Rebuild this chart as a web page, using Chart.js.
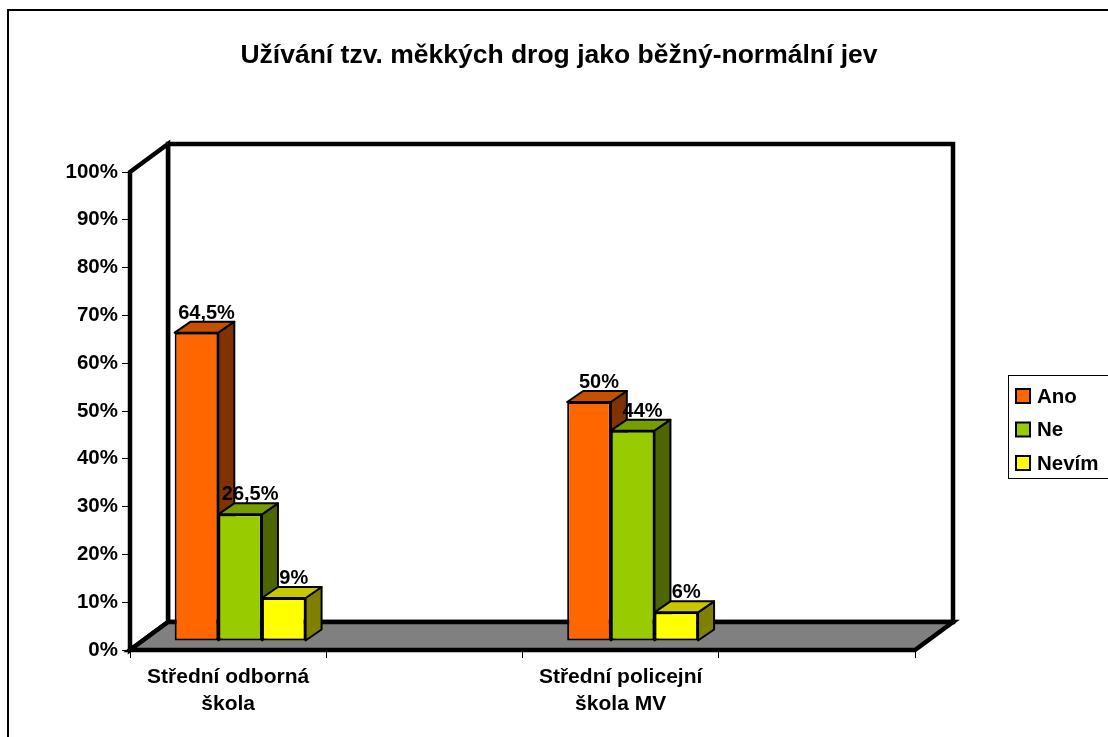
<!DOCTYPE html>
<html lang="cs">
<head>
<meta charset="utf-8">
<title>Užívání tzv. měkkých drog</title>
<script src="https://cdn.jsdelivr.net/npm/chart.js@4/dist/chart.umd.min.js"></script>
<style>
    html, body { margin: 0; padding: 0; background: #ffffff; }
    canvas { display: block; }
</style>
</head>
<body>
<canvas id="grafico" width="1108" height="737"></canvas>
<script>
// Dados do gráfico
const titulo = 'Užívání tzv. měkkých drog jako běžný-normální jev';
const kategorie = [['Střední odborná', 'škola'], '', ['Střední policejní', 'škola MV'], ''];
const serie = ['Ano', 'Ne', 'Nevím'];
const ano = [64.5, null, 50, null];
const ne = [26.5, null, 44, null];
const nevim = [9, null, 6, null];
const yMin = 0;
const yMax = 100;
const yKrok = 10;

// Barvy: přední stěna, horní stěna, boční stěna
const barvyPredni = ['#FF6600', '#99CC00', '#FFFF00'];
const barvyHorni = ['#C65000', '#779E00', '#C8C800'];
const barvyBocni = ['#803300', '#4D6600', '#808000'];

const pismo = 'Arial, "Liberation Sans", sans-serif';

// 3D hloubka
const HLOUBKA_X = 38, HLOUBKA_Y = -28;   // stěny a podlaha
const POSUN_X = 12, POSUN_Y = -9;        // rovina sloupců
const SLOUPEC_X = 16, SLOUPEC_Y = -11;   // hloubka sloupce

function formatHodnota(v) {
    return String(v).replace('.', ',') + '%';
}

// Stěny, podlaha, rámeček, titulek a legenda
const pozadi3D = {
    id: 'pozadi3D',
    beforeDraw(chart) {
        const ctx = chart.ctx;
        const a = chart.chartArea;
        ctx.save();
        ctx.fillStyle = '#ffffff';
        ctx.fillRect(0, 0, chart.width, chart.height);

        // vnější rámeček
        ctx.strokeStyle = '#000000';
        ctx.lineWidth = 2;
        ctx.strokeRect(8, 10, chart.width + 20, chart.height + 20);

        ctx.lineWidth = 4.5;
        ctx.lineJoin = 'miter';

        // zadní stěna
        ctx.fillStyle = '#ffffff';
        ctx.beginPath();
        ctx.rect(a.left + HLOUBKA_X, a.top + HLOUBKA_Y, a.right - a.left, a.bottom - a.top);
        ctx.fill();
        ctx.stroke();

        // levá stěna
        ctx.beginPath();
        ctx.moveTo(a.left, a.top);
        ctx.lineTo(a.left + HLOUBKA_X, a.top + HLOUBKA_Y);
        ctx.lineTo(a.left + HLOUBKA_X, a.bottom + HLOUBKA_Y);
        ctx.lineTo(a.left, a.bottom);
        ctx.closePath();
        ctx.fill();
        ctx.stroke();

        // podlaha
        ctx.fillStyle = '#808080';
        ctx.beginPath();
        ctx.moveTo(a.left, a.bottom);
        ctx.lineTo(a.right, a.bottom);
        ctx.lineTo(a.right + HLOUBKA_X, a.bottom + HLOUBKA_Y);
        ctx.lineTo(a.left + HLOUBKA_X, a.bottom + HLOUBKA_Y);
        ctx.closePath();
        ctx.fill();
        ctx.stroke();

        // titulek
        ctx.fillStyle = '#000000';
        ctx.font = 'bold 26.5px ' + pismo;
        ctx.textAlign = 'center';
        ctx.textBaseline = 'alphabetic';
        ctx.fillText(titulo, 559, 63);
        ctx.restore();
    },
    beforeDatasetsDraw(chart) {
        const ctx = chart.ctx;
        ctx.save();
        ctx.translate(POSUN_X, POSUN_Y);
        // horní a boční stěny sloupců, zleva doprava
        for (let d = 0; d < chart.data.datasets.length; d++) {
            const meta = chart.getDatasetMeta(d);
            meta.data.forEach((el, i) => {
                if (chart.data.datasets[d].data[i] == null) return;
                const p = el.getProps(['x', 'y', 'base', 'width'], true);
                const l = p.x - p.width / 2;
                const r = p.x + p.width / 2;
                ctx.lineWidth = 2;
                ctx.lineJoin = 'round';
                ctx.strokeStyle = '#000000';

                ctx.fillStyle = barvyBocni[d];
                ctx.beginPath();
                ctx.moveTo(r, p.y);
                ctx.lineTo(r + SLOUPEC_X, p.y + SLOUPEC_Y);
                ctx.lineTo(r + SLOUPEC_X, p.base + SLOUPEC_Y);
                ctx.lineTo(r, p.base);
                ctx.closePath();
                ctx.fill();
                ctx.stroke();

                ctx.fillStyle = barvyHorni[d];
                ctx.beginPath();
                ctx.moveTo(l, p.y);
                ctx.lineTo(l + SLOUPEC_X, p.y + SLOUPEC_Y);
                ctx.lineTo(r + SLOUPEC_X, p.y + SLOUPEC_Y);
                ctx.lineTo(r, p.y);
                ctx.closePath();
                ctx.fill();
                ctx.stroke();
            });
        }
    },
    afterDatasetsDraw(chart) {
        const ctx = chart.ctx;
        // popisky hodnot
        ctx.fillStyle = '#000000';
        ctx.font = 'bold 20px ' + pismo;
        ctx.textAlign = 'center';
        ctx.textBaseline = 'alphabetic';
        chart.data.datasets.forEach((ds, d) => {
            chart.getDatasetMeta(d).data.forEach((el, i) => {
                const v = ds.data[i];
                if (v == null) return;
                const p = el.getProps(['x', 'y'], true);
                ctx.fillText(formatHodnota(v), p.x + 10, p.y - 14);
            });
        });
        ctx.restore();
    },
    afterDraw(chart) {
        const ctx = chart.ctx;
        ctx.save();
        // legenda
        ctx.strokeStyle = '#000000';
        ctx.lineWidth = 1;
        ctx.strokeRect(1008.5, 375.5, 130, 103);
        ctx.font = 'bold 20.5px ' + pismo;
        ctx.textAlign = 'left';
        ctx.textBaseline = 'middle';
        serie.forEach((nazev, d) => {
            const y = 396 + d * 33.5;
            ctx.fillStyle = barvyPredni[d];
            ctx.fillRect(1016, y - 7, 14, 14);
            ctx.lineWidth = 2;
            ctx.strokeRect(1016, y - 7, 14, 14);
            ctx.fillStyle = '#000000';
            ctx.fillText(nazev, 1037, y + 1);
        });
        ctx.restore();
    }
};

function vytvorDataset(label, data, d) {
    return {
        label: label,
        data: data,
        backgroundColor: barvyPredni[d],
        borderColor: '#000000',
        borderWidth: 2,
        borderSkipped: false,
        clip: false,
        categoryPercentage: 0.667,
        barPercentage: 1.0
    };
}

const ctxGraf = document.getElementById('grafico').getContext('2d');
const graf = new Chart(ctxGraf, {
    type: 'bar',
    data: {
        labels: kategorie,
        datasets: [
            vytvorDataset(serie[0], ano, 0),
            vytvorDataset(serie[1], ne, 1),
            vytvorDataset(serie[2], nevim, 2)
        ]
    },
    options: {
        responsive: false,
        animation: false,
        events: [],
        layout: {
            padding: { left: 50, top: 172, right: 193, bottom: 27 }
        },
        plugins: {
            legend: { display: false },
            title: { display: false },
            tooltip: { enabled: false }
        },
        scales: {
            x: {
                afterFit: scale => { scale.height = 60; },
                border: { display: false },
                grid: {
                    offset: true,
                    drawOnChartArea: false,
                    drawTicks: true,
                    tickLength: 8,
                    color: '#000000',
                    lineWidth: 1
                },
                ticks: {
                    color: '#000000',
                    padding: 6,
                    maxRotation: 0,
                    autoSkip: false,
                    font: { family: pismo, size: 21, weight: 'bold', lineHeight: 1.28 }
                }
            },
            y: {
                min: yMin,
                max: yMax,
                afterFit: scale => { scale.width = 80; },
                border: { display: false },
                grid: {
                    drawOnChartArea: false,
                    drawTicks: true,
                    tickLength: 8,
                    color: '#000000',
                    lineWidth: 1
                },
                ticks: {
                    stepSize: yKrok,
                    color: '#000000',
                    padding: 4,
                    font: { family: pismo, size: 20.5, weight: 'bold' },
                    callback: v => v + '%'
                }
            }
        }
    },
    plugins: [pozadi3D]
});
</script>
</body>
</html>
